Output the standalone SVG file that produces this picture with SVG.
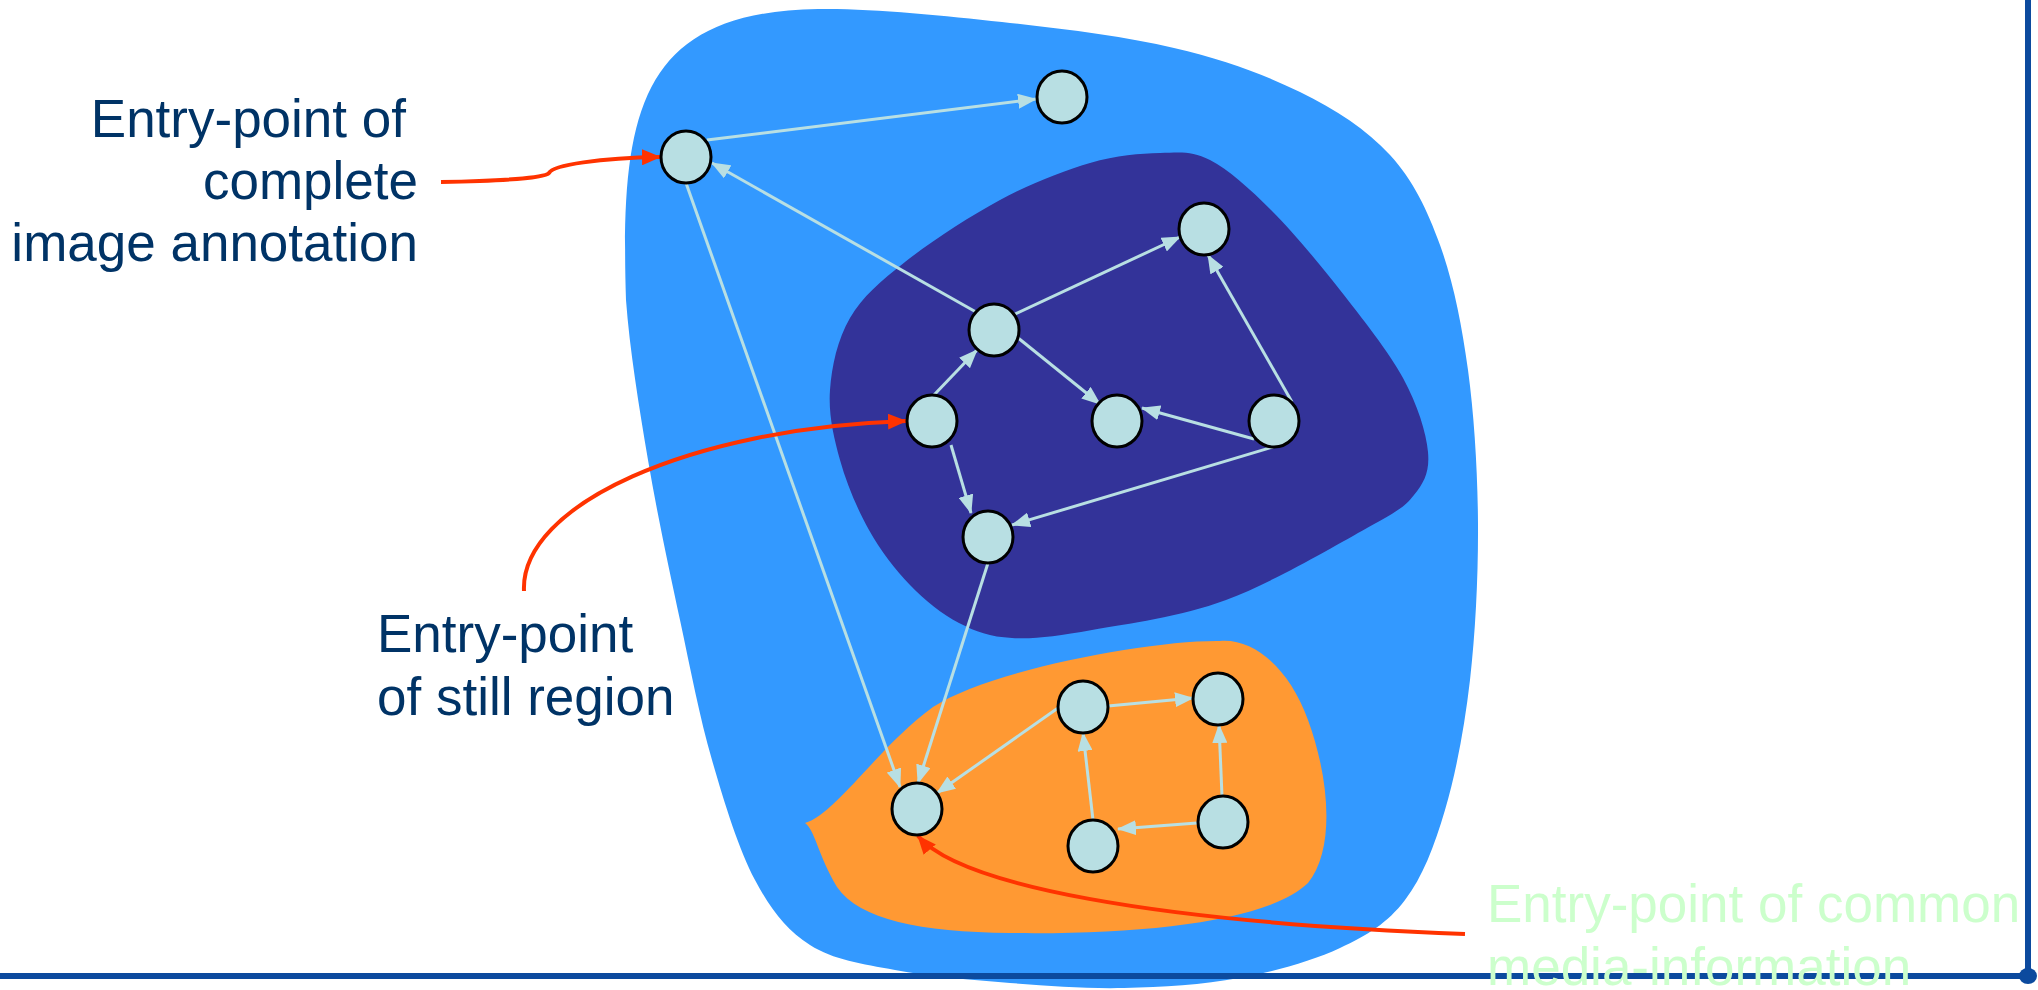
<svg xmlns="http://www.w3.org/2000/svg" width="2038" height="990" viewBox="0 0 2038 990">
<style>
.blob-outer{fill:#3399ff}
.blob-dark{fill:#333399}
.blob-orange{fill:#ff9933}
.edge{fill:none;stroke:#b8dfe3;stroke-width:3;marker-end:url(#ah)}
.red{fill:none;stroke:#ff3300;stroke-width:4;marker-end:url(#rh)}
.node{fill:#b8dfe3;stroke:#000;stroke-width:3}
.lbl{font-family:"Liberation Sans",Arial,sans-serif;font-size:53px;fill:#003366}
.lbl-green{font-family:"Liberation Sans",Arial,sans-serif;font-size:53px;fill:#ccffcc}
.frame{stroke:#0c4a9e;stroke-width:6;fill:none}
</style>
<defs>
<marker id="ah" markerUnits="userSpaceOnUse" markerWidth="19" markerHeight="15" viewBox="0 0 19 15" refX="18" refY="7.5" orient="auto">
<path d="M0,0 L19,7.5 L0,15 z" fill="#b8dfe3"/>
</marker>
<marker id="rh" markerUnits="userSpaceOnUse" markerWidth="19" markerHeight="16" viewBox="0 0 19 16" refX="18" refY="8" orient="auto">
<path d="M0,0 L19,8 L0,16 z" fill="#ff3300"/>
</marker>
</defs>

<g id="regions">
<path class="blob-outer" d="M 818 9 C 868.3 8 942.7 15.5 1002 22 C 1061.3 28.5 1124.3 36.3 1174 48 C 1223.7 59.7 1264 74.2 1300 92 C 1336 109.8 1366.7 129.5 1390 155 C 1413.3 180.5 1427 209.2 1440 245 C 1453 280.8 1461.7 323.5 1468 370 C 1474.3 416.5 1477.7 472.3 1478 524 C 1478.3 575.7 1475.5 632.3 1470 680 C 1464.5 727.7 1455.8 773.3 1445 810 C 1434.2 846.7 1422.5 877 1405 900 C 1387.5 923 1367.7 935 1340 948 C 1312.3 961 1275 971.3 1239 978 C 1203 984.7 1162.2 987.2 1124 988 C 1085.8 988.8 1048.2 986 1010 983 C 971.8 980 928.3 976.3 895 970 C 861.7 963.7 833.3 960 810 945 C 786.7 930 771.3 910.8 755 880 C 738.7 849.2 724.5 803.3 712 760 C 699.5 716.7 690.7 670 680 620 C 669.3 570 657 513.3 648 460 C 639 406.7 629.5 348.3 626 300 C 620 110 640 12 818 9 Z"/>
<path class="blob-dark" d="M 1160 153 C 1180 152.5 1191.5 150.5 1210 160 C 1228.5 169.5 1249.3 188.3 1271 210 C 1292.7 231.7 1318 262 1340 290 C 1362 318 1388.3 351 1403 378 C 1417.7 405 1426.2 432.5 1428 452 C 1429.8 471.5 1424.2 482.3 1414 495 C 1403.8 507.7 1398.3 510.5 1367 528 C 1335.7 545.5 1271.8 583 1226 600 C 1180.2 617 1127.7 623.7 1092 630 C 1056.3 636.3 1034.2 639.2 1012 638 C 989.8 636.8 976 631.8 959 623 C 942 614.2 925 600.5 910 585 C 895 569.5 880.7 550.8 869 530 C 857.3 509.2 846.5 483.3 840 460 C 833.5 436.7 828.3 413.7 830 390 C 831.7 366.3 837.5 339.3 850 318 C 862.5 296.7 880 281.7 905 262 C 930 242.3 969.2 216.5 1000 200 C 1030.8 183.5 1063.3 170.8 1090 163 C 1116.7 155.2 1140 153.5 1160 153 Z"/>
<path class="blob-orange" d="M 805 823 C 835 815 880 745 933 707 C 990 670 1150 640 1220 641 C 1255 638 1290 670 1308 720 C 1330 780 1335 850 1308 883 C 1270 920 1150 935 1010 933 C 920 932 860 920 837 887 C 818 855 815 830 805 823 Z"/>
</g>

<g id="frame">
<line class="frame" x1="0" y1="976" x2="2028" y2="976"/>
<line class="frame" x1="2028" y1="0" x2="2028" y2="976"/>
<ellipse cx="2028" cy="976" rx="9" ry="8" fill="#0c4a9e"/>
</g>

<g id="connectors">
<path class="edge" d="M 707 140 L 1036 99"/>
<path class="edge" d="M 976 312 L 712 163"/>
<path class="edge" d="M 686 183 L 900 787"/>
<path class="edge" d="M 1013 315 L 1180 237"/>
<path class="edge" d="M 933 396 L 977 350"/>
<path class="edge" d="M 1012 333 L 1100 404"/>
<path class="edge" d="M 1254 439 L 1142 408"/>
<path class="edge" d="M 1292 402 L 1208 255"/>
<path class="edge" d="M 951 445 L 971 513"/>
<path class="edge" d="M 1273 447 L 1012 525"/>
<path class="edge" d="M 988 563 L 918 783"/>
<path class="edge" d="M 1058 708 L 937 793"/>
<path class="edge" d="M 1108 706 L 1193 698"/>
<path class="edge" d="M 1093 820 L 1083 733"/>
<path class="edge" d="M 1222 796 L 1219 725"/>
<path class="edge" d="M 1197 823 L 1118 829"/>
<path class="red" d="M 441 182 C 500 181 545 178 549 173 C 553 165 600 158 660 157"/>
<path class="red" d="M 524 591 C 520 505 690 428 906 421"/>
<path class="red" d="M 1465 934 C 1150 922 960 885 918 836"/>
</g>

<g id="node-A"><ellipse class="node" cx="686" cy="157" rx="25" ry="26"/></g>
<g id="node-B"><ellipse class="node" cx="1062" cy="97" rx="25" ry="26"/></g>
<g id="node-C"><ellipse class="node" cx="1204" cy="229" rx="25" ry="26"/></g>
<g id="node-D"><ellipse class="node" cx="994" cy="330" rx="25" ry="26"/></g>
<g id="node-E"><ellipse class="node" cx="932" cy="421" rx="25" ry="26"/></g>
<g id="node-F"><ellipse class="node" cx="1117" cy="421" rx="25" ry="26"/></g>
<g id="node-G"><ellipse class="node" cx="1274" cy="421" rx="25" ry="26"/></g>
<g id="node-H"><ellipse class="node" cx="988" cy="537" rx="25" ry="26"/></g>
<g id="node-I"><ellipse class="node" cx="917" cy="809" rx="25" ry="26"/></g>
<g id="node-J"><ellipse class="node" cx="1083" cy="707" rx="25" ry="26"/></g>
<g id="node-K"><ellipse class="node" cx="1218" cy="699" rx="25" ry="26"/></g>
<g id="node-L"><ellipse class="node" cx="1093" cy="846" rx="25" ry="26"/></g>
<g id="node-M"><ellipse class="node" cx="1223" cy="822" rx="25" ry="26"/></g>

<g id="label-image">
<text class="lbl" x="406" y="137" text-anchor="end">Entry-point of</text>
<text class="lbl" x="418" y="199" text-anchor="end">complete</text>
<text class="lbl" x="418" y="261" text-anchor="end">image annotation</text>
</g>
<g id="label-still">
<text class="lbl" x="377" y="652">Entry-point</text>
<text class="lbl" x="377" y="715">of still region</text>
</g>
<g id="label-media">
<text class="lbl-green" x="1487" y="922">Entry-point of common</text>
<text class="lbl-green" x="1487" y="985">media-information</text>
</g>
</svg>
